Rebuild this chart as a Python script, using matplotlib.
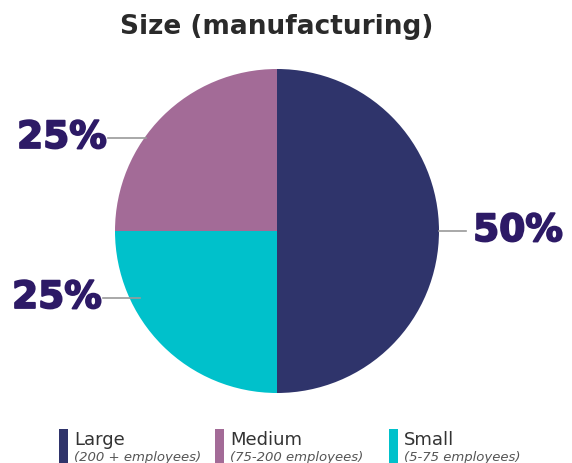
import matplotlib.pyplot as plt
import matplotlib.patheffects as pe
from matplotlib.patches import Rectangle

# data
sizes = ['Large', 'Medium', 'Small']
subs = ['(200 + employees)', '(75-200 employees)', '(5-75 employees)']
shares = [50, 25, 25]
colors = ['#2f346b', '#a36b97', '#00c1cb']

W, H = 572, 464
fig = plt.figure(figsize=(W / 100, H / 100), dpi=100)
ax = fig.add_axes([0, 0, 1, 1])

# pie in pixel-like coords (y up)
wedges, _ = ax.pie(shares, colors=colors, startangle=-90, counterclock=True,
                   center=(277, 232), radius=162, frame=False)
ax.set_xlim(0, W)
ax.set_ylim(0, H)
ax.set_aspect('auto')
ax.axis('off')

lab_col = '#2d1a66'
line_col = '#9a9a9a'
# percentage labels with leader lines: (text x, y, line x0, x1)
labels = [(518, 232, 439, 466),   # Large
          (62, 325, 108, 146),    # Medium
          (57, 165, 103, 140)]    # Small
for (tx, ty, x0, x1), v in zip(labels, shares):
    ax.plot([x0, x1], [ty, ty], color=line_col, lw=1.2)
    ax.text(tx, ty, f'{v}%', ha='center', va='center', fontsize=27,
            fontweight='bold', color=lab_col,
            path_effects=[pe.withStroke(linewidth=1.3, foreground=lab_col)])

ax.text(277, 437, 'Size (manufacturing)', ha='center', va='center',
        fontsize=19, fontweight='bold', color='#2a2a2a')

# legend
leg_x = [59, 215, 389]
for x, name, sub, c in zip(leg_x, sizes, subs, colors):
    ax.add_patch(Rectangle((x, 0), 9, 34, color=c, lw=0))
    ax.text(x + 15, 19, name, fontsize=13, color='#333333', va='baseline')
    ax.text(x + 15, 3, sub, fontsize=9.5, style='italic', color='#555555',
            va='baseline')

fig.savefig('out.png', dpi=100)
